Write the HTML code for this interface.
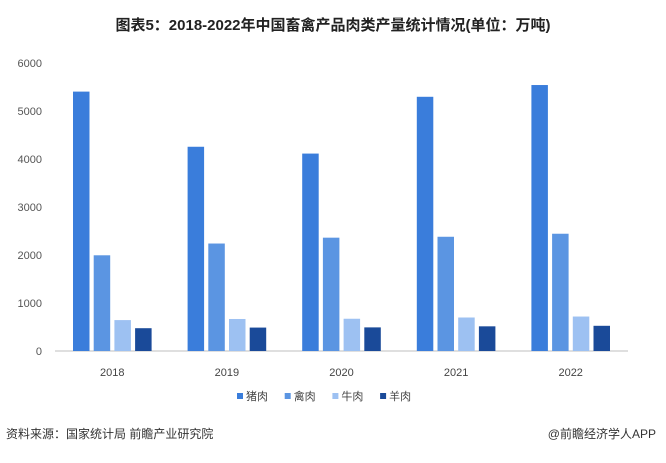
<!DOCTYPE html>
<html><head><meta charset="utf-8"><style>
body{margin:0;background:#fff;width:666px;height:458px;overflow:hidden;font-family:"Liberation Sans","Noto Sans CJK SC",sans-serif}
</style></head><body>
<svg width="666" height="458" xmlns="http://www.w3.org/2000/svg">
<text x="333" y="30" text-anchor="middle" font-size="15" font-weight="bold" fill="#222" font-family="Liberation Sans,Noto Sans CJK SC,sans-serif">图表5：2018-2022年中国畜禽产品肉类产量统计情况(单位：万吨)</text>
<g id="yaxis"></g>
<line x1="55" y1="351" x2="628" y2="351" stroke="#bfbfbf"/>
<g id="bars"></g>
<g id="xaxis"></g>
<g id="legend"></g>
<text x="6" y="438" font-size="12" fill="#333" font-family="Liberation Sans,Noto Sans CJK SC,sans-serif">资料来源：国家统计局 前瞻产业研究院</text>
<text x="656" y="438" text-anchor="end" font-size="12" fill="#333" font-family="Liberation Sans,Noto Sans CJK SC,sans-serif">@前瞻经济学人APP</text>
</svg>
<script>
const categories=["2018","2019","2020","2021","2022"];
const seriesNames=["猪肉","禽肉","牛肉","羊肉"];
const pork=[5404,4255,4113,5296,5541];
const poultry=[1994,2239,2361,2380,2443];
const beef=[644,667,672,698,718];
const mutton=[475,488,492,514,525];
const yTicks=[0,1000,2000,3000,4000,5000,6000];
const colors=["#3a7ddb","#5b95e2","#9dc1f2","#1a4a99"];
const NS="http://www.w3.org/2000/svg";
const x0=55,groupW=114.6,y0=351,yTop=63,yMax=6000;
function y(v){return y0-(v/yMax)*(y0-yTop);}
function gx(i){return x0+i*groupW;}
function mk(t,a,p){const e=document.createElementNS(NS,t);for(const k in a)e.setAttribute(k,a[k]);p.appendChild(e);return e;}
const ya=document.getElementById('yaxis');
yTicks.forEach(t=>{const e=mk('text',{x:42,y:y(t)+4,'text-anchor':'end','font-size':11,fill:'#555'},ya);e.textContent=t;

});
const bars=document.getElementById('bars');
const series=[pork,poultry,beef,mutton];
series.forEach((s,si)=>{s.forEach((v,i)=>{const bx=gx(i)+18+si*20.7;
const r=mk('rect',{x:bx,y:y(v),width:16.5,height:y0-y(v),fill:colors[si]},bars);

});});
const xa=document.getElementById('xaxis');
categories.forEach((c,i)=>{const e=mk('text',{x:gx(i)+groupW/2,y:376,'text-anchor':'middle','font-size':11,fill:'#444'},xa);e.textContent=c;

});
const lg=document.getElementById('legend');
seriesNames.forEach((n,i)=>{const lx=237+i*47.7;
const g=mk('g',{},lg);


mk('rect',{x:lx,y:393,width:6,height:6,fill:colors[i]},g);
const t=mk('text',{x:lx+9,y:400,'font-size':11,fill:'#444','font-family':'Liberation Sans,Noto Sans CJK SC,sans-serif'},g);t.textContent=n;});
</script>
</body></html>
